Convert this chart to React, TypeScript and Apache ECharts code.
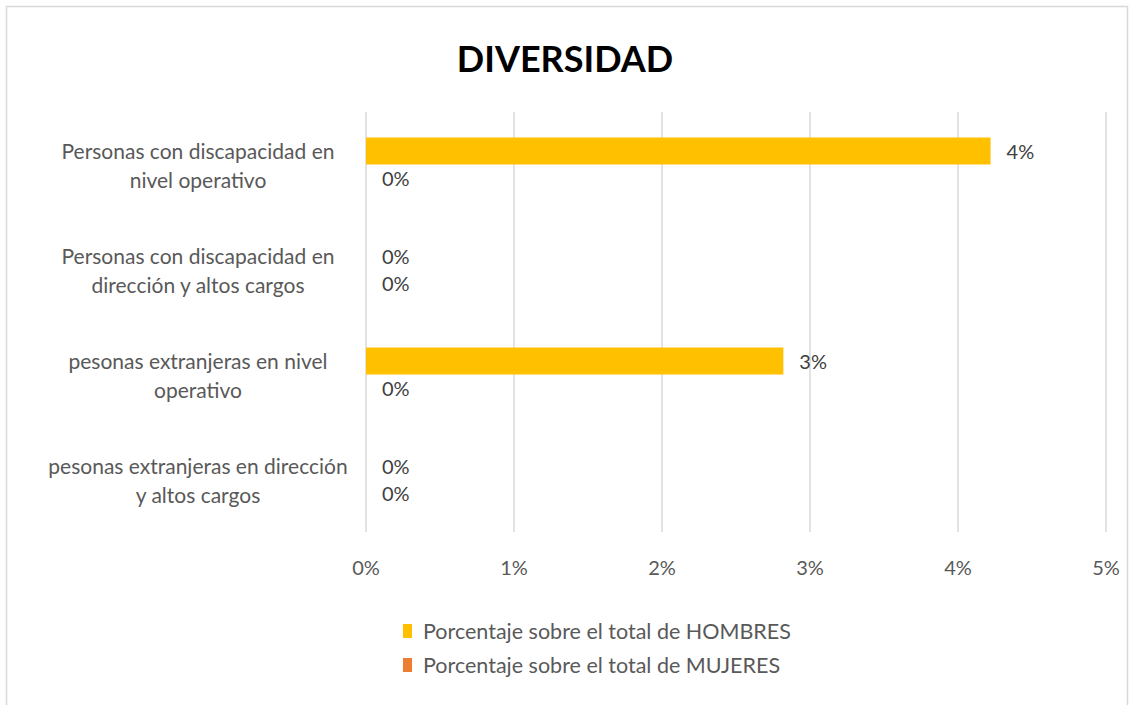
import React, { useEffect, useRef } from "react";
import * as echarts from "echarts";

const categories = [
  "Personas con discapacidad en\nnivel operativo",
  "Personas con discapacidad en\ndirección y altos cargos",
  "pesonas extranjeras en nivel\noperativo",
  "pesonas extranjeras en dirección\ny altos cargos",
];
const hombres = [4.22, 0, 2.82, 0];
const mujeres = [0, 0, 0, 0];
const xTicks = { min: 0, max: 5, interval: 1 };
const seriesNames = [
  "Porcentaje sobre el total de HOMBRES",
  "Porcentaje sobre el total de MUJERES",
];
const FONT = "Lato";

export default function App() {
  const ref = useRef<HTMLDivElement>(null);
  useEffect(() => {
    document.body.style.margin = "0";
    const chart = echarts.init(ref.current!, null, { renderer: "svg" });
    const labelCfg = {
      show: true,
      position: "right",
      distance: 16,
      color: "#404040",
      fontSize: 20,
      fontFamily: FONT,
      formatter: (p: any) => Math.round(p.value) + "%",
    };
    chart.setOption({
      animation: false,
      backgroundColor: "#ffffff",
      title: {
        text: "DIVERSIDAD",
        left: "center",
        top: 35,
        textStyle: { fontSize: 36, fontWeight: "bold", color: "#000000", fontFamily: FONT },
      },
      graphic: [
        {
          type: "rect",
          shape: { x: 6.5, y: 6.5, width: 1121, height: 705 },
          style: { fill: "none", stroke: "#d9d9d9", lineWidth: 1.5 },
          silent: true,
        },
      ],
      grid: { left: 366, right: 24, top: 112, bottom: 173 },
      xAxis: {
        type: "value",
        min: xTicks.min,
        max: xTicks.max,
        interval: xTicks.interval,
        axisLine: { show: false },
        axisTick: { show: false },
        splitLine: { show: true, lineStyle: { color: "#d9d9d9", width: 1.5 } },
        axisLabel: {
          formatter: "{value}%",
          color: "#595959",
          fontSize: 20,
          fontFamily: FONT,
          margin: 25,
        },
      },
      yAxis: {
        type: "category",
        inverse: true,
        data: categories,
        axisLine: { show: false },
        axisTick: { show: false },
        axisLabel: {
          color: "#595959",
          fontSize: 21,
          fontFamily: FONT,
          align: "center",
          margin: 168,
          lineHeight: 29,
        },
      },
      legend: {
        orient: "vertical",
        left: 398,
        top: 615,
        itemWidth: 9,
        itemHeight: 14,
        itemGap: 12,
        icon: "rect",
        data: seriesNames,
        textStyle: { color: "#595959", fontSize: 21.5, fontFamily: FONT, padding: [0, 0, 0, 6] },
      },
      series: [
        {
          name: seriesNames[0],
          type: "bar",
          data: hombres,
          barWidth: 27,
          barGap: "0%",
          itemStyle: { color: "#FFC000" },
          label: labelCfg,
        },
        {
          name: seriesNames[1],
          type: "bar",
          data: mujeres,
          barWidth: 27,
          barGap: "0%",
          itemStyle: { color: "#ED7D31" },
          label: labelCfg,
        },
      ],
    });
    return () => chart.dispose();
  }, []);
  return <div ref={ref} style={{ width: 1130, height: 705 }} />;
}
